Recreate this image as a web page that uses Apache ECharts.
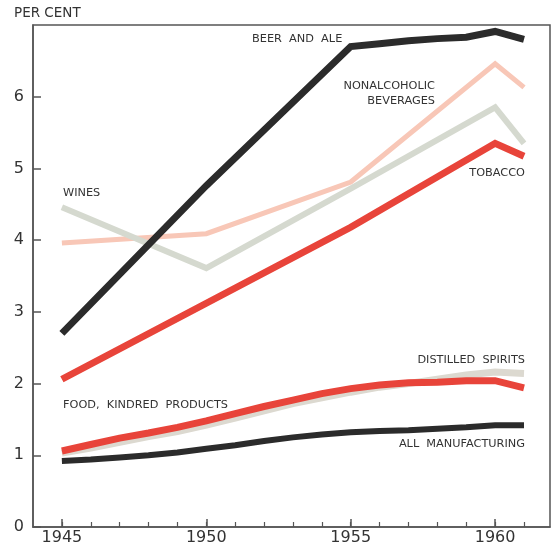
<!DOCTYPE html>
<html>
<head>
<meta charset="utf-8">
<script src="https://cdn.jsdelivr.net/npm/echarts@6.0.0/dist/echarts.min.js"></script>
<style>
html,body{margin:0;padding:0;background:#fff;}
#chart{width:552px;height:546px;}
</style>
</head>
<body>
<div id="chart"></div>
<script>
var years = [1945,1946,1947,1948,1949,1950,1951,1952,1953,1954,1955,1956,1957,1958,1959,1960,1961];
var beerAndAle = [2.70,null,null,null,null,4.76,null,null,null,null,6.70,6.74,6.78,6.81,6.83,6.91,6.80];
var nonalcoholic = [3.96,null,null,null,null,4.09,null,null,null,null,4.81,null,null,null,null,6.46,6.13];
var wines = [4.46,null,null,null,null,3.61,null,null,null,null,4.72,null,null,null,null,5.85,5.35];
var tobacco = [2.06,null,null,null,null,3.12,null,null,null,null,4.18,null,null,null,null,5.35,5.17];
var distilled = [1.03,1.10,1.18,1.26,1.33,1.42,1.52,1.62,1.72,1.80,1.88,1.95,2.00,2.06,2.12,2.16,2.14];
var food = [1.06,1.15,1.24,1.31,1.39,1.48,1.58,1.68,1.77,1.86,1.93,1.98,2.01,2.02,2.04,2.04,1.94];
var allMfg = [0.92,0.94,0.97,1.00,1.04,1.09,1.14,1.20,1.25,1.29,1.32,1.34,1.35,1.37,1.39,1.42,1.42];
var xMajorTicks = [1945,1950,1955,1960];
var yTicks = [0,1,2,3,4,5,6];
var seriesNames = ['BEER  AND  ALE','NONALCOHOLIC BEVERAGES','WINES','TOBACCO','DISTILLED  SPIRITS','FOOD,  KINDRED  PRODUCTS','ALL  MANUFACTURING'];

function pairs(vals){ return years.map(function(y,i){ return [y, vals[i]]; }); }

var FONT = '"DejaVu Sans", sans-serif';
var TXT = '#333';
var AX = '#555';
var LBL = '11.3px ' + FONT;

function line(name, vals, color, width){
  return {
    name: name, type: 'line', data: pairs(vals), connectNulls: true,
    showSymbol: false, symbol: 'none', silent: true, animation: false,
    lineStyle: { color: color, width: width, cap: 'butt', join: 'miter' }
  };
}

var chart = echarts.init(document.getElementById('chart'));
chart.setOption({
  backgroundColor: '#fff',
  animation: false,
  grid: { left: 33, right: 2, top: 25, bottom: 19, show: true, borderColor: AX, borderWidth: 1.5, backgroundColor: 'transparent' },
  xAxis: [{
    type: 'value', min: 1944, max: 1961.9,
    axisLine: { show: true, lineStyle: { color: AX, width: 1.5 } },
    axisTick: { show: true, inside: true, length: 8, customValues: xMajorTicks, lineStyle: { color: AX, width: 1.5 } },
    axisLabel: { show: true, customValues: xMajorTicks, formatter: function(v){ return String(v); }, color: TXT, fontFamily: FONT, fontSize: 16, margin: 3 },
    splitLine: { show: false }
  },{
    type: 'value', min: 1944, max: 1961.9, position: 'bottom', gridIndex: 0,
    axisLine: { show: false },
    axisTick: { show: true, inside: true, length: 5, customValues: years, lineStyle: { color: AX, width: 1.2 } },
    axisLabel: { show: false },
    splitLine: { show: false }
  }],
  yAxis: {
    type: 'value', min: 0, max: 7,
    axisLine: { show: true, lineStyle: { color: AX, width: 1.5 } },
    axisTick: { show: true, inside: true, length: 8, customValues: yTicks, lineStyle: { color: AX, width: 1.5 } },
    axisLabel: { show: true, customValues: yTicks, color: TXT, fontFamily: FONT, fontSize: 16, margin: 9 },
    splitLine: { show: false }
  },
  series: [
    line(seriesNames[1], nonalcoholic, '#f8c7b7', 5),
    line(seriesNames[2], wines, '#d5d9cf', 6),
    line(seriesNames[3], tobacco, '#e8443a', 7),
    line(seriesNames[4], distilled, '#dcd9d0', 7),
    line(seriesNames[5], food, '#e8443a', 7),
    line(seriesNames[6], allMfg, '#2b2b2b', 6),
    line(seriesNames[0], beerAndAle, '#2b2b2b', 7)
  ],
  graphic: [
    { type: 'text', left: 14, top: 6, style: { text: 'PER CENT', font: '13.5px ' + FONT, fill: TXT } },
    { type: 'text', left: 252, top: 34, style: { text: 'BEER  AND  ALE', font: LBL, fill: TXT } },
    { type: 'text', x: 435, y: 81, style: { text: 'NONALCOHOLIC', font: LBL, fill: TXT, align: 'right' } },
    { type: 'text', x: 435, y: 96, style: { text: 'BEVERAGES', font: LBL, fill: TXT, align: 'right' } },
    { type: 'text', x: 525, y: 168, style: { text: 'TOBACCO', font: LBL, fill: TXT, align: 'right' } },
    { type: 'text', left: 63, top: 188, style: { text: 'WINES', font: LBL, fill: TXT } },
    { type: 'text', x: 525, y: 355, style: { text: 'DISTILLED  SPIRITS', font: LBL, fill: TXT, align: 'right' } },
    { type: 'text', left: 63, top: 400, style: { text: 'FOOD,  KINDRED  PRODUCTS', font: LBL, fill: TXT } },
    { type: 'text', x: 525, y: 439, style: { text: 'ALL  MANUFACTURING', font: LBL, fill: TXT, align: 'right' } }
  ]
});
</script>
</body>
</html>
